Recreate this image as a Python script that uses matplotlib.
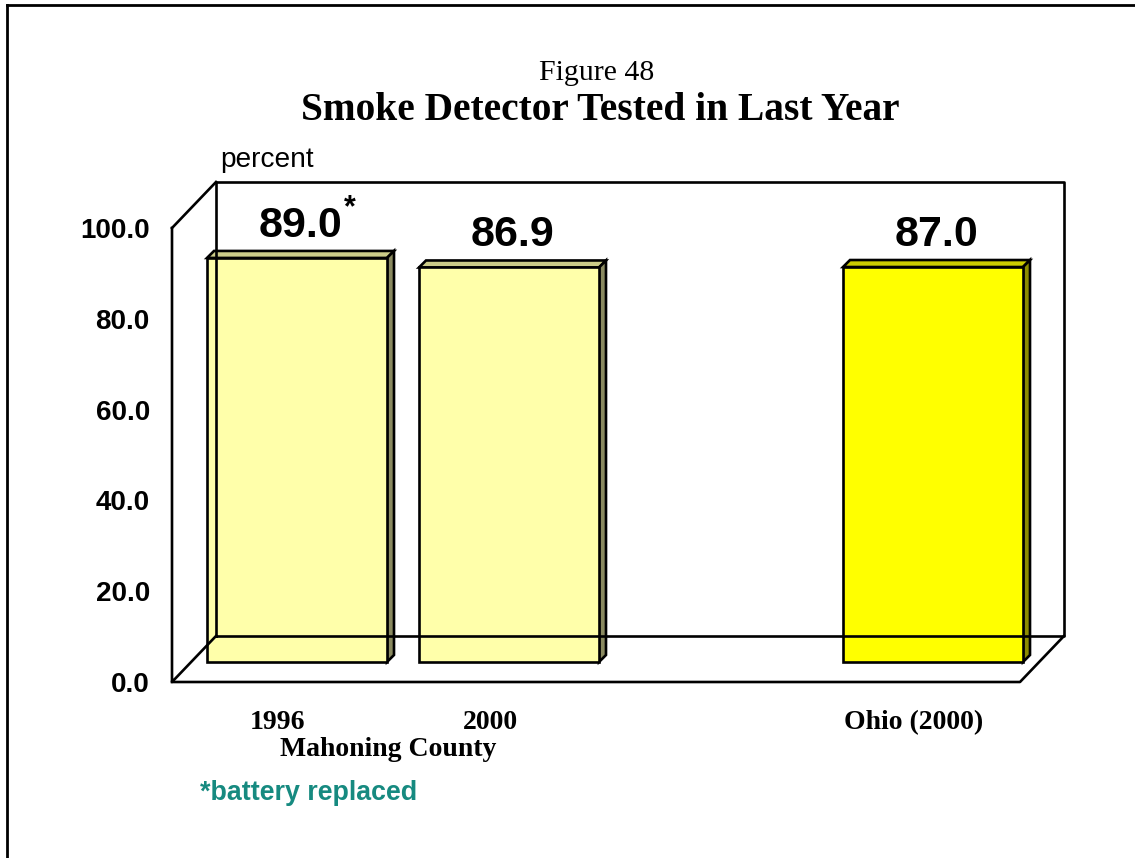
import matplotlib
matplotlib.use("Agg")
import matplotlib.pyplot as plt
from matplotlib.patches import Polygon
from matplotlib.lines import Line2D

# Data
categories = ["1996", "2000", "Ohio (2000)"]
positions = [0, 1, 3]
values = [89.0, 86.9, 87.0]
value_labels = ["89.0", "86.9", "87.0"]
front_colors = ["#FFFFAA", "#FFFFAA", "#FFFF00"]
top_colors = ["#CCCC88", "#CCCC88", "#CCCC00"]
side_colors = ["#8A8A60", "#8A8A60", "#8C8C00"]
yticks = [0, 20, 40, 60, 80, 100]

W, H = 1135, 858
fig = plt.figure(figsize=(W / 100, H / 100), dpi=100)
fig.patch.set_facecolor("white")

# front plane of the pseudo-3D box, in pixels
L, R, B, T = 172, 1020, 682, 228
ax = fig.add_axes([L / W, (H - B) / H, (R - L) / W, (B - T) / H])
ax.set_xlim(-0.5, 3.5)
ax.set_ylim(0, 100)
for s in ax.spines.values():
    s.set_visible(False)
ax.patch.set_alpha(0)

sx = 4.0 / (R - L)      # data units per pixel, x
sy = 100.0 / (B - T)    # data units per pixel, y

def off(px, py):
    return px * sx, py * sy

lw = 1.9
lk = dict(color="black", lw=lw, clip_on=False, solid_capstyle="projecting")

# box: back wall, left wall, floor
bdx, bdy = off(44, 46)
x0, x1 = -0.5, 3.5
ax.add_line(Line2D([x0 + bdx, x1 + bdx, x1 + bdx, x0 + bdx, x0 + bdx],
                   [bdy, bdy, 100 + bdy, 100 + bdy, bdy], **lk))
ax.add_line(Line2D([x0, x0, x0 + bdx], [100, 0, bdy], **lk))
ax.add_line(Line2D([x0, x0 + bdx], [100, 100 + bdy], **lk))
ax.add_line(Line2D([x0, x1, x1 + bdx], [0, 0, bdy], **lk))

# bars sit partway into the box depth
pdx, pdy = off(19, 20)
ddx, ddy = off(7, 7)
width = 180 / 212
for p, v, fc, tc, sc in zip(positions, values, front_colors, top_colors, side_colors):
    a = p - width / 2 + pdx
    b = p + width / 2 + pdx
    y0 = pdy
    y1 = v + pdy
    ax.add_patch(Polygon([(a, y1), (b, y1), (b + ddx, y1 + ddy), (a + ddx, y1 + ddy)],
                         closed=True, fc=tc, ec="black", lw=lw, clip_on=False))
    ax.add_patch(Polygon([(b, y0), (b + ddx, y0 + ddy), (b + ddx, y1 + ddy), (b, y1)],
                         closed=True, fc=sc, ec="black", lw=lw, clip_on=False))
ax.bar([p + pdx for p in positions], values, width=width, bottom=pdy,
       color=front_colors, edgecolor="black", linewidth=lw, clip_on=False)

# value labels
for p, v, lab in zip(positions, values, value_labels):
    ax.annotate(lab, xy=(p, v), xytext=(22, 32), textcoords="offset pixels",
                ha="center", va="bottom", fontsize=31, fontweight="bold",
                family="Liberation Sans")
ax.annotate("*", xy=(positions[0], values[0]), xytext=(72, 62), textcoords="offset pixels",
            ha="center", va="baseline", fontsize=22, fontweight="bold",
            family="Liberation Sans")

# axes ticks
ax.set_yticks(yticks)
ax.set_yticklabels([f"{t:.1f}" for t in yticks], fontsize=20, fontweight="bold",
                   family="Liberation Sans")
ax.tick_params(axis="y", length=0, pad=16)
ax.set_xticks(positions)
ax.set_xticklabels(categories, fontsize=20, fontweight="bold", family="Liberation Serif")
ax.tick_params(axis="x", length=0, pad=20)
ax.text(0.52, -0.148, "Mahoning County", transform=ax.get_xaxis_transform(),
        ha="center", va="center", fontsize=20, fontweight="bold", family="Liberation Serif")

# titles and notes
fig.text(597 / W, 1 - 73 / H, "Figure 48", ha="center", va="center",
         fontsize=21.5, family="Liberation Serif")
fig.text(600 / W, 1 - 111 / H, "Smoke Detector Tested in Last Year", ha="center", va="center",
         fontsize=28.4, fontweight="bold", family="Liberation Serif")
fig.text(220 / W, 1 - 160 / H, "percent", ha="left", va="center",
         fontsize=20.2, family="Liberation Sans")
fig.text(200 / W, 1 - 793 / H, "*battery replaced", ha="left", va="center",
         fontsize=19.3, fontweight="bold", family="Liberation Sans", color="#168A80")

# outer frame (top and left edges visible)
fig.add_artist(Line2D([7 / W, 1], [1 - 5 / H, 1 - 5 / H], transform=fig.transFigure,
                      color="black", lw=2))
fig.add_artist(Line2D([7 / W, 7 / W], [1 - 5 / H, 0], transform=fig.transFigure,
                      color="black", lw=2))

fig.savefig("out.png", dpi=100)
